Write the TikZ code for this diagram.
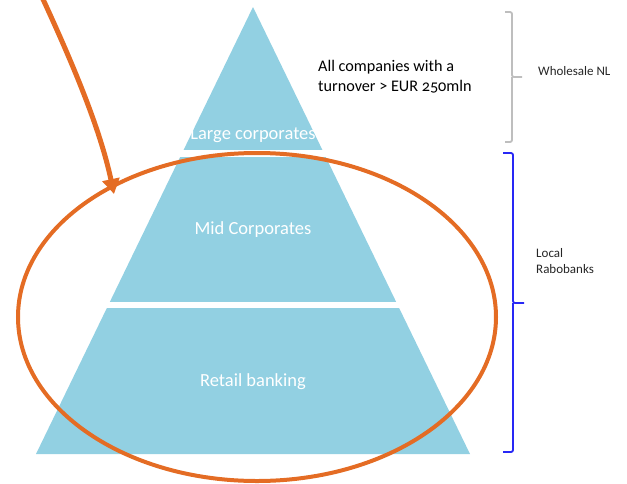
\documentclass[tikz,border=0pt]{standalone}
\usepackage{fontspec}
\setmainfont{Carlito}[Numbers=OldStyle]
\usetikzlibrary{arrows.meta}
\definecolor{pyrblue}{RGB}{146,208,226}
\definecolor{circorange}{RGB}{228,108,36}
\definecolor{brgray}{RGB}{190,190,190}
\definecolor{brblue}{RGB}{40,40,245}
\tikzset{
  layerlabel/.style={text=white, font=\fontsize{18.5}{22}\selectfont, inner sep=0pt},
  sidelabel/.style={text=black!85, font=\fontsize{13}{16}\selectfont, align=left, anchor=west, inner sep=0pt},
  bodytext/.style={text=black, font=\fontsize{16.2}{20}\selectfont, align=left, anchor=west, inner sep=0pt},
  bracket/.style={line width=1.8pt, rounded corners=2pt},
}
\begin{document}
\begin{tikzpicture}[x=1pt,y=-1pt]
\useasboundingbox (0,0) rectangle (627,483);
% pyramid
\fill[pyrblue] (253,7) -- (36,454) -- (470,454) -- cycle;
\fill[white] (0,150) rectangle (627,156.5);
\fill[white] (0,302) rectangle (627,308);
\node[layerlabel] (large) at (253,135) {Large corporates};
\node[layerlabel] (mid) at (253,230) {Mid Corporates};
\node[layerlabel] (retail) at (253,382) {Retail banking};
% text
\node[bodytext] (allc) at (318,77) {All companies with a\\turnover > EUR 250mln};
% gray bracket
\draw[brgray, bracket] (505,12) -| (512,77) -- (522,77);
\draw[brgray, bracket] (505,142) -| (512,77);
\node[sidelabel] (whole) at (538,71) {Wholesale NL};
% blue bracket
\draw[brblue, bracket] (503,153) -| (513,303) -- (524,303);
\draw[brblue, bracket] (503,452) -| (513,303);
\node[sidelabel] (local) at (536,261) {Local\\Rabobanks};
% orange ellipse
\draw[circorange, line width=4pt] (257,317) ellipse [x radius=239, y radius=164];
% arrow
\coordinate (arrstart) at (42,-3);
\coordinate (arrend) at (114,194);
\draw[circorange, line width=5pt, -{Triangle[length=15pt,width=17pt]}]
  (arrstart) .. controls (72,62) and (100,128) .. (arrend);
\end{tikzpicture}
\end{document}
